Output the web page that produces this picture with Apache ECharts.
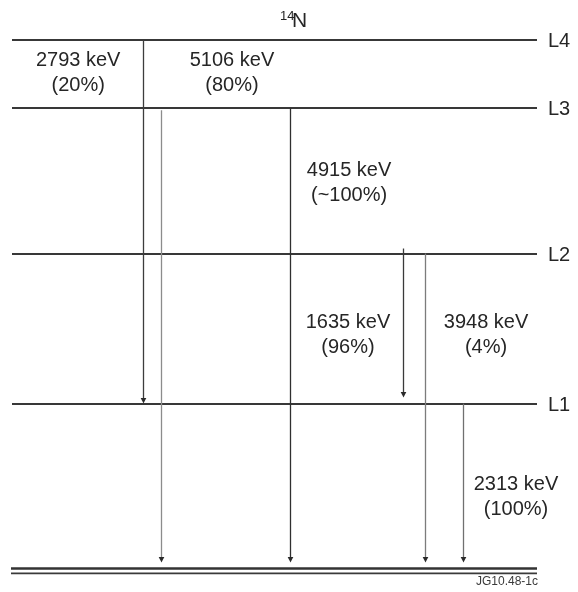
<!DOCTYPE html>
<html>
<head>
<meta charset="utf-8">
<title>14N level scheme</title>
<script src="https://cdn.jsdelivr.net/npm/echarts@6/dist/echarts.min.js"></script>
<style>
  html, body { margin: 0; padding: 0; background: #ffffff; }
  #chart { width: 578px; height: 592px; }
</style>
</head>
<body>
<div id="chart"></div>
<script>
// ---- Level scheme (schematic heights, ground state = 0, top level = 100) ----
const levelNames   = ['L1', 'L2', 'L3', 'L4'];
const levelHeights = [31.2, 59.6, 87.1, 100];
const groundHeight = 0;

// ---- Gamma transitions ----
const gammaEnergyKeV = [2793, 5106, 4915, 1635, 3948, 2313];
const gammaBranch    = ['20%', '80%', '~100%', '96%', '4%', '100%'];
const gammaFrom      = ['L4', 'L3', 'L3', 'L2', 'L2', 'L1'];
const gammaTo        = ['L1', 'ground', 'ground', 'L1', 'ground', 'ground'];

// ---- Layout of the schematic (axis units / pixel nudges) ----
const gammaColumn   = [24.95, 28.4, 52.95, 74.5, 78.7, 85.9];
const gammaStartGap = [0, -2, 0, 5, 0, 0];   // px above (+) / below (-) the start level
const gammaEndGap   = [0, 6, 6, 6, 6, 6];    // px the arrow tip stops short of the end level
const gammaColor    = ['#3d3d3d', '#8c8c8c', '#2f2f2f', '#3a3a3a', '#7c7c7c', '#707070'];
const labelAnchor   = [[12.6, 93.8], [41.9, 93.8], [64.2, 72.9], [64.0, 44.2], [90.3, 44.2], [96.0, 13.5]];

const FONT = '"Liberation Sans", Arial, Helvetica, sans-serif';
const TEXT_COLOR = '#262626';

function heightOf(name) {
  if (name === 'ground') return groundHeight;
  return levelHeights[levelNames.indexOf(name)];
}

const levelData = levelNames.map((n, i) => [levelHeights[i], i]);
const gammaData = gammaEnergyKeV.map((e, i) => [gammaColumn[i], heightOf(gammaFrom[i]), heightOf(gammaTo[i]), i]);
const labelData = gammaEnergyKeV.map((e, i) => [labelAnchor[i][0], labelAnchor[i][1], i]);

const chart = echarts.init(document.getElementById('chart'), null, { renderer: 'canvas' });

chart.setOption({
  backgroundColor: '#ffffff',
  animation: false,
  grid: { left: 12, right: 41, top: 40, bottom: 23.5 },
  xAxis: { type: 'value', min: 0, max: 100, show: false },
  yAxis: { type: 'value', min: 0, max: 100, show: false },
  graphic: [
    { type: 'text', left: 280, top: 10,
      style: { text: '14', font: '13px ' + FONT, fill: TEXT_COLOR } },
    { type: 'text', left: 292, top: 11,
      style: { text: 'N', font: '21px ' + FONT, fill: TEXT_COLOR } },
    { type: 'text', right: 40, top: 576,
      style: { text: 'JG10.48-1c', font: '12px ' + FONT, fill: '#3a3a3a' } }
  ],
  series: [
    // excited levels with their names on the right
    {
      type: 'custom',
      data: levelData,
      encode: { x: -1, y: 0 },
      renderItem: function (params, api) {
        const h = api.value(0);
        const i = api.value(1);
        const a = api.coord([0, h]);
        const b = api.coord([100, h]);
        const y = Math.round(a[1]);
        return {
          type: 'group',
          children: [
            { type: 'line', shape: { x1: a[0], y1: y, x2: b[0], y2: y },
              style: { stroke: '#383838', lineWidth: 2 } },
            { type: 'text', x: b[0] + 11, y: y + 1,
              style: { text: levelNames[i], font: '20px ' + FONT, fill: TEXT_COLOR,
                       textAlign: 'left', textVerticalAlign: 'middle' } }
          ]
        };
      }
    },
    // ground state: double rule
    {
      type: 'custom',
      data: [[groundHeight]],
      encode: { x: -1, y: 0 },
      renderItem: function (params, api) {
        const a = api.coord([0, api.value(0)]);
        const b = api.coord([100, api.value(0)]);
        const y = a[1];
        return {
          type: 'group',
          children: [
            { type: 'line', shape: { x1: a[0] - 1, y1: y, x2: b[0], y2: y },
              style: { stroke: '#333333', lineWidth: 2.6 } },
            { type: 'line', shape: { x1: a[0] - 1, y1: y + 4.8, x2: b[0], y2: y + 4.8 },
              style: { stroke: '#3a3a3a', lineWidth: 1.8 } }
          ]
        };
      }
    },
    // gamma transitions with arrowheads
    {
      type: 'custom',
      data: gammaData,
      encode: { x: 0, y: [1, 2] },
      renderItem: function (params, api) {
        const i = api.value(3);
        const top = api.coord([api.value(0), api.value(1)]);
        const tip = api.coord([api.value(0), api.value(2)]);
        const x = Math.round(top[0]) + 0.5;
        const y0 = top[1] - gammaStartGap[i];
        const y1 = tip[1] - gammaEndGap[i];
        const c = gammaColor[i];
        return {
          type: 'group',
          children: [
            { type: 'line', shape: { x1: x, y1: y0, x2: x, y2: y1 - 3 },
              style: { stroke: c, lineWidth: 1.3 } },
            { type: 'polygon', shape: { points: [[x - 2.8, y1 - 5.5], [x + 2.8, y1 - 5.5], [x, y1]] },
              style: { fill: '#2a2a2a' } }
          ]
        };
      }
    },
    // energy / branching labels
    {
      type: 'custom',
      data: labelData,
      encode: { x: 0, y: 1 },
      renderItem: function (params, api) {
        const i = api.value(2);
        const p = api.coord([api.value(0), api.value(1)]);
        return {
          type: 'text', x: p[0], y: p[1],
          style: {
            text: gammaEnergyKeV[i] + ' keV\n(' + gammaBranch[i] + ')',
            font: '20px ' + FONT, lineHeight: 25, fill: TEXT_COLOR,
            textAlign: 'center', textVerticalAlign: 'middle'
          }
        };
      }
    }
  ]
});
</script>
</body>
</html>
